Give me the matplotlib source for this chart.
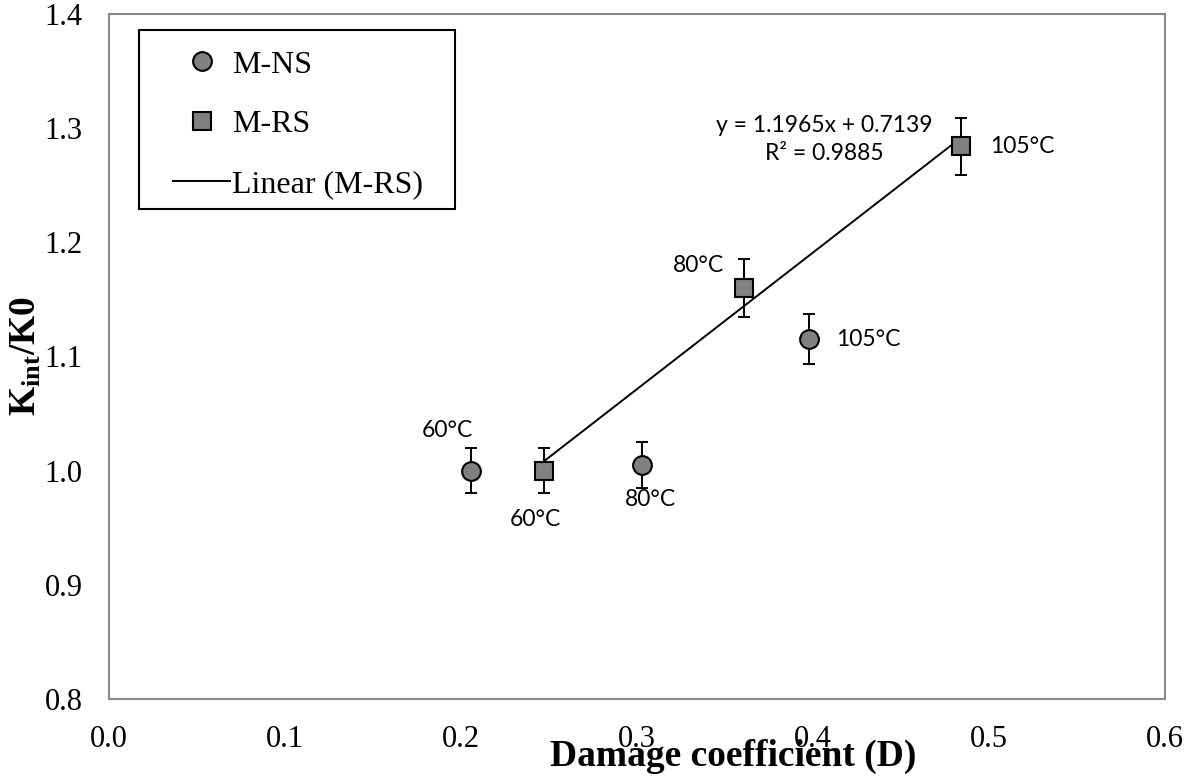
import numpy as np
import matplotlib
matplotlib.use("Agg")
import matplotlib.pyplot as plt
from matplotlib.patches import Rectangle

plt.rcParams["mathtext.fontset"] = "custom"
plt.rcParams["mathtext.rm"] = "Liberation Serif"
plt.rcParams["mathtext.bf"] = "Liberation Serif:bold"
plt.rcParams["mathtext.it"] = "Liberation Serif:italic"

# data
ns_d = [0.2057, 0.303, 0.398]
ns_k = [1.000, 1.005, 1.115]
ns_err = [0.020, 0.020, 0.022]
ns_labels = ["60°C", "80°C", "105°C"]

rs_d = [0.247, 0.361, 0.484]
rs_k = [1.000, 1.160, 1.284]
rs_err = [0.020, 0.025, 0.025]
rs_labels = ["60°C", "80°C", "105°C"]

eq_text = "y = 1.1965x + 0.7139\nR² = 0.9885"

x_ticks = [0.0, 0.1, 0.2, 0.3, 0.4, 0.5, 0.6]
y_ticks = [0.8, 0.9, 1.0, 1.1, 1.2, 1.3, 1.4]

serif = ["Liberation Serif", "DejaVu Serif"]
sans = ["Lato", "DejaVu Sans"]

fig = plt.figure(figsize=(11.89, 7.8), dpi=100)
ax = fig.add_axes([109 / 1189, 1 - 699 / 780, 1056 / 1189, 685 / 780])

grey = "#808080"

# error bars
ax.errorbar(ns_d, ns_k, yerr=ns_err, fmt="none", ecolor="black",
            elinewidth=1.4, capsize=4.5, capthick=1.4, zorder=2)
ax.errorbar(rs_d, rs_k, yerr=rs_err, fmt="none", ecolor="black",
            elinewidth=1.4, capsize=4.5, capthick=1.4, zorder=2)

# linear trendline for M-RS
slope, icept = np.polyfit(rs_d, rs_k, 1)
xs = np.array([min(rs_d), max(rs_d)])
ax.plot(xs, slope * xs + icept, color="black", lw=1.4, zorder=3,
        label="Linear (M-RS)")

ax.plot(ns_d, ns_k, "o", ms=13.5, mfc=grey, mec="black", mew=1.5,
        zorder=4, label="M-NS")
ax.plot(rs_d, rs_k, "s", ms=13.5, mfc=grey, mec="black", mew=1.5,
        zorder=4, label="M-RS")

# point labels
ns_off = [(-17, 29, "center"), (6, -25, "center"), (19, 0, "left")]
rs_off = [(-6, -35, "center"), (-33, 16, "center"), (21, 0, "left")]
for x, y, t, (dx, dy, ha) in zip(ns_d, ns_k, ns_labels, ns_off):
    ax.annotate(t, (x, y), xytext=(dx, dy), textcoords="offset points",
                ha=ha, va="center", fontsize=16.5, family=sans)
for x, y, t, (dx, dy, ha) in zip(rs_d, rs_k, rs_labels, rs_off):
    ax.annotate(t, (x, y), xytext=(dx, dy), textcoords="offset points",
                ha=ha, va="center", fontsize=16.5, family=sans)

ax.annotate(eq_text, (rs_d[-1], rs_k[-1]), xytext=(-98, 5),
            textcoords="offset points", ha="center", va="center",
            multialignment="center", fontsize=16.5, family=sans,
            linespacing=1.4)

ax.set_xlim(0, 0.6)
ax.set_ylim(0.8, 1.4)
ax.set_xticks(x_ticks)
ax.set_yticks(y_ticks)
ax.set_xticklabels([f"{v:.1f}" for v in x_ticks], family=serif, fontsize=22)
ax.set_yticklabels([f"{v:.1f}" for v in y_ticks], family=serif, fontsize=22)
ax.tick_params(length=0, pad=19)

for s in ax.spines.values():
    s.set_color("#898989")
    s.set_linewidth(1.5)

ax.set_xlabel("Damage coefficient (D)", family=serif, fontsize=27,
              fontweight="bold")
ax.xaxis.set_label_coords(0.591, -0.058)
ax.set_ylabel(r"K$_{\mathbf{int}}$/K0", family=serif, fontsize=27,
              fontweight="bold")
ax.yaxis.set_label_coords(-0.062, 0.5)

# legend: Excel-style box drawn separately, entries inside it
ax.add_patch(Rectangle((0.0284, 0.7153), 0.2992, 0.2613,
                       transform=ax.transAxes, facecolor="white",
                       edgecolor="black", lw=1.5, zorder=5))
h, l = ax.get_legend_handles_labels()
order = [l.index("M-NS"), l.index("M-RS"), l.index("Linear (M-RS)")]
leg = ax.legend([h[i] for i in order], [l[i] for i in order],
                loc="upper left", bbox_to_anchor=(0.0606, 0.947),
                borderaxespad=0, borderpad=0, frameon=False,
                handlelength=1.79, handletextpad=0.05,
                labelspacing=0.95, prop={"family": serif, "size": 23})
leg.set_zorder(6)

fig.savefig("out.png", dpi=100)
